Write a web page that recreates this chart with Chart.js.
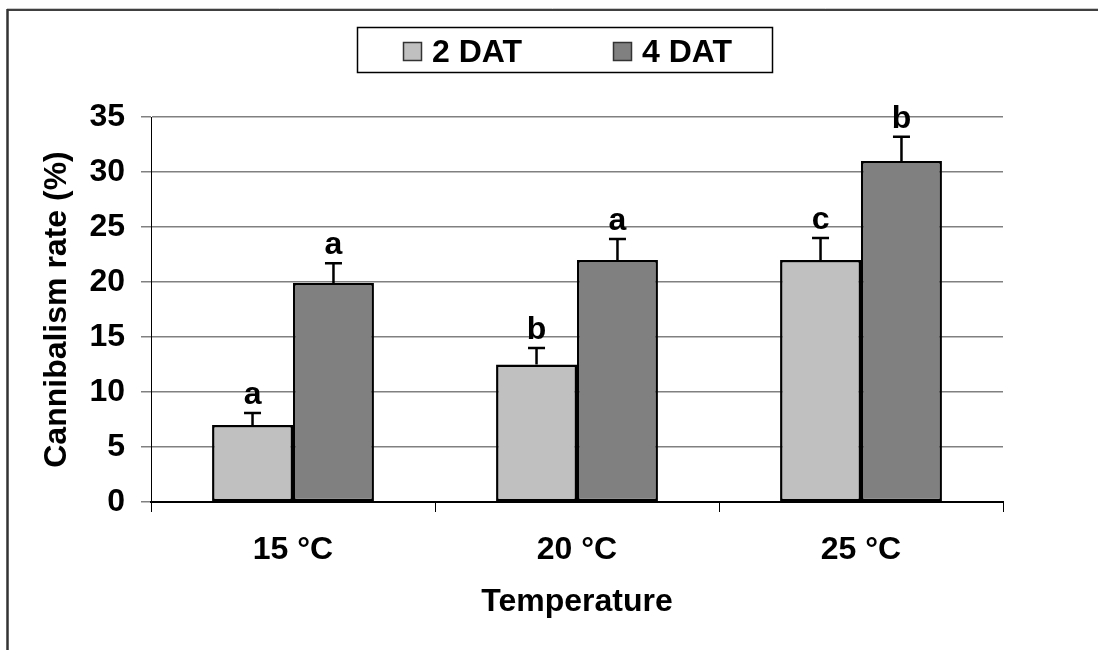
<!DOCTYPE html>
<html>
<head>
<meta charset="utf-8">
<script src="https://cdn.jsdelivr.net/npm/chart.js@4"></script>
<style>
  html, body { margin: 0; padding: 0; background: #fff; }
  canvas { display: block; }
</style>
</head>
<body>
<canvas id="chart" width="1098" height="650"></canvas>
<script>
// Chart data
const temperatures = ['15 °C', '20 °C', '25 °C'];
const seriesNames = ['2 DAT', '4 DAT'];
const dat2Values = [7, 12.5, 22];
const dat2Errors = [1.1, 1.5, 2.0];
const dat4Values = [19.9, 22, 31];
const dat4Errors = [1.8, 1.9, 2.2];
const dat2Letters = ['a', 'b', 'c'];
const dat4Letters = ['a', 'a', 'b'];
const yTickValues = [0, 5, 10, 15, 20, 25, 30, 35];

const FONT = "'Liberation Sans', Arial, sans-serif";
const FONT_SIZE = 32;
const errors = [dat2Errors, dat4Errors];
const letters = [dat2Letters, dat4Letters];
const fills = ['#C0C0C0', '#808080'];

// Outer frame of the picture
const framePlugin = {
    id: 'frame',
    afterDraw(chart) {
        const ctx = chart.ctx;
        ctx.save();
        ctx.strokeStyle = '#c8c8c8';
        ctx.lineWidth = 1;
        ctx.beginPath();
        ctx.moveTo(7, 8.5);
        ctx.lineTo(1098, 8.5);
        ctx.stroke();
        ctx.strokeStyle = '#000';
        ctx.lineWidth = 1.5;
        ctx.beginPath();
        ctx.moveTo(7, 10);
        ctx.lineTo(1098, 10);
        ctx.stroke();
        ctx.strokeStyle = '#333';
        ctx.lineWidth = 2.5;
        ctx.beginPath();
        ctx.moveTo(7.5, 9);
        ctx.lineTo(7.5, 650);
        ctx.stroke();
        ctx.restore();
    }
};

// Upper error bars and significance letters
const errorBarPlugin = {
    id: 'errorBars',
    afterDatasetsDraw(chart) {
        const ctx = chart.ctx;
        const y = chart.scales.y;
        ctx.save();
        chart.data.datasets.forEach((ds, di) => {
            const meta = chart.getDatasetMeta(di);
            meta.data.forEach((bar, i) => {
                const top = y.getPixelForValue(ds.data[i] + errors[di][i]);
                ctx.strokeStyle = '#000';
                ctx.lineWidth = 2.5;
                ctx.beginPath();
                ctx.moveTo(bar.x, bar.y);
                ctx.lineTo(bar.x, top);
                ctx.moveTo(bar.x - 8.5, top);
                ctx.lineTo(bar.x + 8.5, top);
                ctx.stroke();

                ctx.fillStyle = '#000';
                ctx.font = 'bold ' + FONT_SIZE + 'px ' + FONT;
                ctx.textAlign = 'center';
                ctx.textBaseline = 'alphabetic';
                ctx.fillText(letters[di][i], bar.x, top - 9);
            });
        });
        ctx.restore();
    }
};

// Boxed legend at the top
const boxedLegendPlugin = {
    id: 'boxedLegend',
    afterDraw(chart) {
        const ctx = chart.ctx;
        ctx.save();
        ctx.strokeStyle = '#000';
        ctx.lineWidth = 1.5;
        ctx.strokeRect(357.5, 27.5, 415, 45);

        const swatchX = [403, 613];
        ctx.font = 'bold ' + FONT_SIZE + 'px ' + FONT;
        ctx.textAlign = 'left';
        ctx.textBaseline = 'alphabetic';
        seriesNames.forEach((name, i) => {
            ctx.fillStyle = fills[i];
            ctx.fillRect(swatchX[i], 42, 19, 19);
            ctx.strokeStyle = '#333';
            ctx.lineWidth = 1.5;
            ctx.strokeRect(swatchX[i] + 0.5, 42.5, 18, 18);
            ctx.fillStyle = '#000';
            ctx.fillText(name, swatchX[i] + 29, 62);
        });
        ctx.restore();
    }
};

new Chart(document.getElementById('chart'), {
    type: 'bar',
    data: {
        labels: temperatures,
        datasets: [
            {
                label: seriesNames[0],
                data: dat2Values,
                backgroundColor: fills[0],
                borderColor: '#000',
                borderWidth: 2.5,
                borderSkipped: false
            },
            {
                label: seriesNames[1],
                data: dat4Values,
                backgroundColor: fills[1],
                borderColor: '#000',
                borderWidth: 2.5,
                borderSkipped: false
            }
        ]
    },
    options: {
        responsive: false,
        animation: false,
        devicePixelRatio: 1,
        layout: {
            padding: { top: 117, right: 95, bottom: 0, left: 0 }
        },
        datasets: {
            bar: {
                categoryPercentage: 0.57,
                barPercentage: 1.0
            }
        },
        plugins: {
            legend: { display: false },
            tooltip: { enabled: false }
        },
        scales: {
            x: {
                grid: {
                    offset: true,
                    drawOnChartArea: false,
                    tickLength: 10,
                    color: '#000',
                    lineWidth: 1
                },
                border: { color: '#000', width: 2 },
                ticks: {
                    color: '#000',
                    padding: 19,
                    maxRotation: 0,
                    font: { family: FONT, size: FONT_SIZE, weight: 'bold' }
                },
                title: {
                    display: true,
                    text: 'Temperature',
                    color: '#000',
                    padding: { top: 0, bottom: 29 },
                    font: { family: FONT, size: FONT_SIZE, weight: 'bold' }
                },
                afterFit(scale) {
                    scale.height = 148;
                }
            },
            y: {
                min: yTickValues[0],
                max: yTickValues[yTickValues.length - 1],
                afterBuildTicks(scale) {
                    scale.ticks = yTickValues.map(v => ({ value: v }));
                },
                grid: {
                    color: '#808080',
                    lineWidth: 1.5,
                    tickLength: 10
                },
                border: { color: '#000', width: 1 },
                ticks: {
                    color: '#000',
                    padding: 16,
                    font: { family: FONT, size: FONT_SIZE, weight: 'bold' }
                },
                title: {
                    display: true,
                    text: 'Cannibalism rate (%)',
                    color: '#000',
                    padding: { top: 38, bottom: 0 },
                    font: { family: FONT, size: FONT_SIZE, weight: 'bold' }
                },
                afterFit(scale) {
                    scale.width = 151;
                }
            }
        }
    },
    plugins: [framePlugin, errorBarPlugin, boxedLegendPlugin]
});
</script>
</body>
</html>
